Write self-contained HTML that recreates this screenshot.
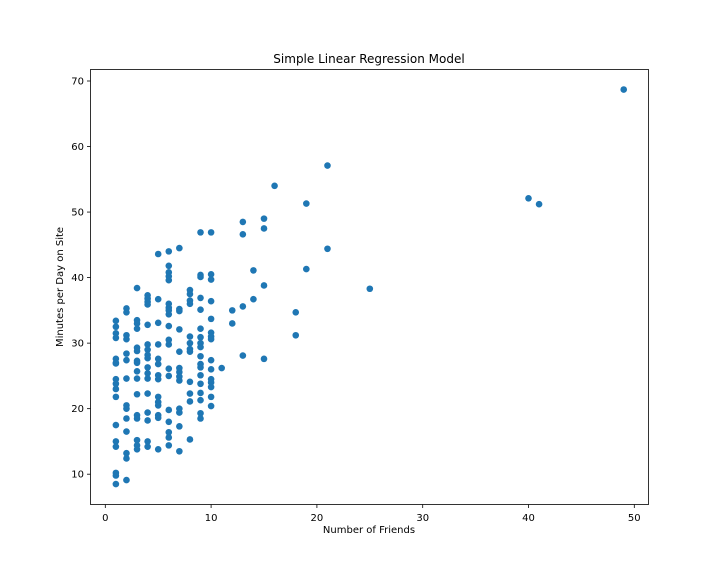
<!DOCTYPE html>
<html><head><meta charset="utf-8"><style>body{margin:0;background:#fff}svg{display:block}text{font-family:"DejaVu Sans","Liberation Sans",sans-serif;fill:#000}</style></head>
<body><svg id="c" width="720" height="576"></svg>
<script>
const xTicks=[0,10,20,30,40,50];
const yTicks=[10,20,30,40,50,60,70];
const friendCounts=[1,2,3,4,5,6,7,8,9,10,11,12,13,14,15,16,18,19,21,25,40,41,49];
const minutesByCount=[
[33.4,32.5,31.5,30.8,27.6,27,26.9,24.5,23.8,23,21.8,17.5,15,14.2,10.2,9.8,8.5],
[35.3,34.7,31.2,30.6,28.4,27.4,24.6,20.5,20,18.5,16.5,13.2,12.4,9.1],
[38.4,33.5,33,32.2,29.3,28.8,27.3,27,25.7,24.6,22.2,19,18.5,15.2,14.4,13.8],
[37.3,36.8,36.3,35.9,32.8,29.8,29,28.2,27.7,26.3,25.4,24.6,22.3,19.4,18.2,15,14.2],
[43.6,36.7,33.1,29.8,27.6,26.8,25.1,24.5,21.8,21,20.5,19,18.6,13.8],
[44,41.8,40.8,40.2,39.6,36,35.4,35,34.4,32.6,30.5,29.8,26.1,25,19.8,18,16.4,15.6,14.4],
[44.5,35.2,34.9,32.1,28.7,26.2,25.6,24.9,24.3,20,19.4,17.3,13.5],
[38.1,37.5,36.5,36,31,30,29.1,28.7,24.1,22.3,21.1,15.3],
[46.9,40.4,40.1,36.9,35.1,32.2,30.9,30,29.4,28,26.8,26.3,25.1,23.8,22.4,21.3,19.3,18.5],
[46.9,40.5,39.7,36.4,33.7,31.6,31,30.6,27.4,26,24.5,24,23.3,21.8,20.4],
[26.2],[35,33],[48.5,46.6,35.6,28.1],[41.1,36.7],[49,47.5,38.8,27.6],[54],[34.7,31.2],[51.3,41.3],[57.1,44.4],[38.3],[52.1],[51.2],[68.7]
];
const L=90,R=648,T=69,B=504;
const xs=v=>105.3+(v-0)*(634.3-105.3)/50;
const ys=v=>474.2-(v-10)*(474.2-81)/60;
const svg=document.getElementById('c');const NS='http://www.w3.org/2000/svg';
function mk(t,a,p){const e=document.createElementNS(NS,t);for(const k in a)e.setAttribute(k,a[k]);(p||svg).appendChild(e);return e;}
const title=mk('text',{x:369,y:63,'text-anchor':'middle','font-size':12});title.textContent='Simple Linear Regression Model';


const pts=mk('g',{});


friendCounts.forEach((x,i)=>minutesByCount[i].forEach(y=>{const c=mk('circle',{cx:xs(x),cy:ys(y),r:3.3,fill:'#1f77b4'},pts);

}));
const fr=mk('rect',{x:L+.5,y:T+.5,width:R-L,height:B-T,fill:'none',stroke:'#000','stroke-width':0.8});


const xg=mk('g',{});


xTicks.forEach(v=>{mk('line',{x1:xs(v),x2:xs(v),y1:B+.5,y2:B+4,stroke:'#000','stroke-width':0.8},xg);const t=mk('text',{x:xs(v),y:B+17,'text-anchor':'middle','font-size':10},xg);t.textContent=v;});
const yg=mk('g',{});


yTicks.forEach(v=>{mk('line',{x1:L+.5,x2:L-3,y1:ys(v),y2:ys(v),stroke:'#000','stroke-width':0.8},yg);const t=mk('text',{x:L-6,y:ys(v)+3.5,'text-anchor':'end','font-size':10},yg);t.textContent=v;});
const xt=mk('text',{x:369,y:533,'text-anchor':'middle','font-size':10});xt.textContent='Number of Friends';


const yt=mk('text',{x:63,y:287,'text-anchor':'middle','font-size':10,transform:'rotate(-90 63 287)'});yt.textContent='Minutes per Day on Site';


</script></body></html>
